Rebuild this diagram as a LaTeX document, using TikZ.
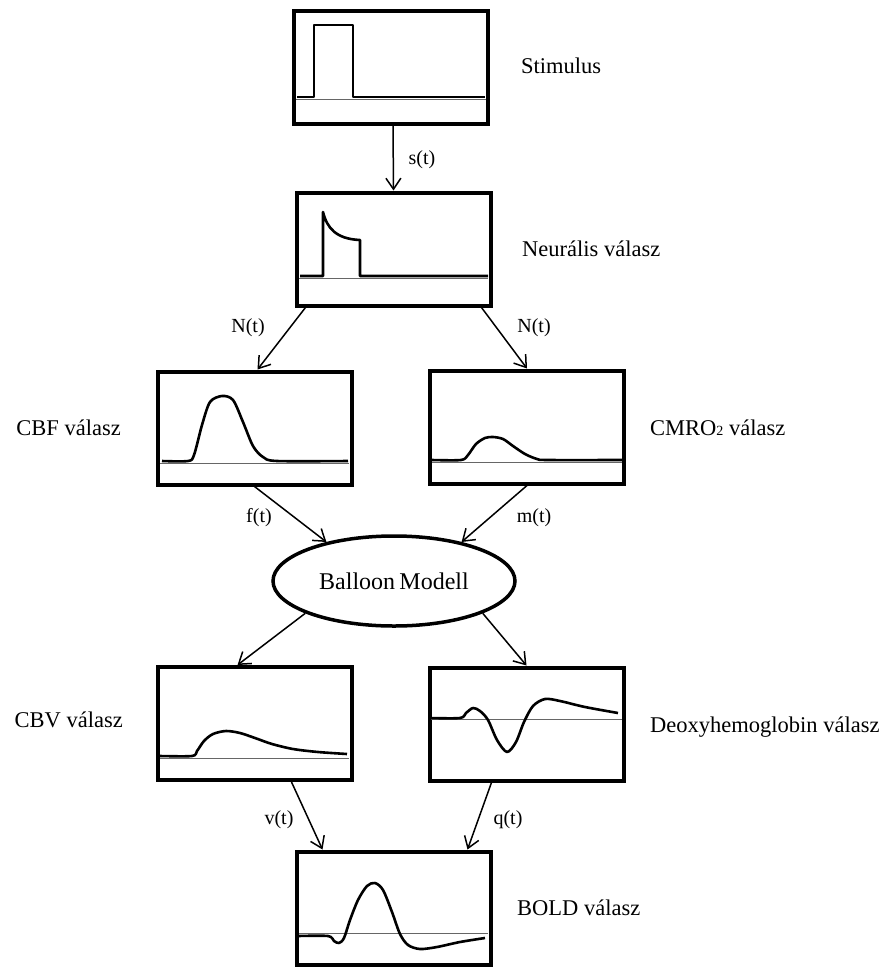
\documentclass[tikz,border=0pt]{standalone}
\usepackage{fontspec}
\setmainfont{Liberation Serif}
\usetikzlibrary{arrows.meta,shapes.geometric}
\begin{document}
\begin{tikzpicture}[x=1pt,y=-1pt,
  panel/.style={draw, line width=4pt, minimum width=194pt, minimum height=113pt, inner sep=0pt},
  model/.style={draw, ellipse, line width=3.5pt, minimum width=242pt, minimum height=90pt, inner sep=0pt, font=\fontsize{24}{28}\selectfont},
  caption/.style={font=\fontsize{22.5}{27}\selectfont, inner sep=0pt},
  sig/.style={font=\fontsize{20}{24}\selectfont, inner sep=0pt},
  flow/.style={line width=1.5pt, -{Straight Barb[length=11pt,width=15pt,line width=1.5pt]}},
  trace/.style={line width=2.6pt, line join=round},
  zero/.style={line width=1pt, draw=black!60}
]
\useasboundingbox (0,0) rectangle (895,967);

% panels
\node[panel] (stim)   at (391,67.5)  {};
\node[panel] (neural) at (393.5,249) {};
\node[panel] (cbf)    at (254.5,428) {};
\node[panel] (cmro)   at (527,427)   {};
\node[model] (balloon) at (394,581)  {Balloon\hspace{0.18em}Modell};
\node[panel] (cbv)    at (254.5,723.5) {};
\node[panel] (deoxy)  at (526.5,724) {};
\node[panel] (bold)   at (393.5,908) {};

% captions
\node[caption, anchor=base west] (tstim)   at (521,73)  {Stimulus};
\node[caption, anchor=base west] (tneural) at (522,256) {Neurális válasz};
\node[caption, anchor=base east] (tcbf)    at (121,435) {CBF válasz};
\node[caption, anchor=base west] (tcmro)   at (650,435) {CMRO{\fontsize{14}{14}\selectfont 2} válasz};
\node[caption, anchor=base east] (tcbv)    at (123,727) {CBV válasz};
\node[caption, anchor=base west] (tdeoxy)  at (650,732) {Deoxyhemoglobin válasz};
\node[caption, anchor=base west] (tbold)   at (517,915) {BOLD válasz};

% stimulus
\draw[zero] (296,99) -- (486,99);
\draw[trace] (297,97) -- (314,97) -- (314,25) -- (353,25) -- (353,97) -- (485,97);

% neural response
\draw[zero] (299,278) -- (488,278);
\draw[trace] (300,276) -- (323,276) -- (323,212)
  .. controls (327,228) and (336,239) .. (360,240) -- (360,276) -- (488,276);

% CBF
\draw[zero] (160,463) -- (349,463);
\draw[trace] plot[smooth, tension=0.5] coordinates {(162,461) (188,461) (194,455) (202,425) (210,402) (222,396) (233,400) (243,422) (253,446) (263,457) (277,461) (348,461)};

% CMRO2
\draw[zero] (432,462) -- (622,462);
\draw[trace] plot[smooth, tension=0.5] coordinates {(432,460) (461,460) (468,455) (476,444) (485,438) (493,437) (503,439) (513,446) (525,454) (537,459) (548,460) (622,460)};

% CBV
\draw[zero] (160,758) -- (349,758);
\draw[trace] plot[smooth, tension=0.5] coordinates {(160,756) (192,756) (197,751) (204,741) (213,734) (226,731) (240,733) (255,738) (272,744) (293,749) (318,752) (347,754)};

% deoxyhemoglobin
\draw[zero] (431,719) -- (622,719);
\draw[trace] plot[smooth, tension=0.5] coordinates {(430,718) (460,718) (466,713) (473,708) (480,711) (488,720) (497,740) (507,752) (516,742) (524,722) (533,706) (545,699) (560,701) (585,707) (618,713)};

% BOLD
\draw[zero] (299,933) -- (488,933);
\draw[trace] plot[smooth, tension=0.5] coordinates {(298,936) (328,936) (334,941) (339,943) (344,938) (350,920) (358,900) (367,886) (375,883) (383,890) (392,912) (400,934) (408,945) (420,949) (437,947) (460,942) (485,938)};

% connectors
\draw[flow] ([xshift=2pt]stim.south) -- (neural.north);
\draw[flow] ([xshift=-88pt]neural.south) -- ([xshift=3pt]cbf.north);
\draw[flow] ([xshift=88pt]neural.south) -- (cmro.north);
\draw[flow] (cbf.south) -- (balloon.150);
\draw[flow] (cmro.south) -- (balloon.30);
\draw[flow] (balloon.200) -- ([xshift=-17pt]cbv.north);
\draw[flow] (balloon.-20) -- (deoxy.north);
\draw[flow] ([xshift=37pt]cbv.south) -- ([xshift=-71pt]bold.north);
\draw[flow] ([xshift=-35pt]deoxy.south) -- ([xshift=74pt]bold.north);

% signal labels
\node[sig] (ls)  at (422,160) {s(t)};
\node[sig] (lnl) at (248,328) {N(t)};
\node[sig] (lnr) at (534,328) {N(t)};
\node[sig] (lf)  at (259,518) {f(t)};
\node[sig] (lm)  at (534,518) {m(t)};
\node[sig] (lv)  at (279,820) {v(t)};
\node[sig] (lq)  at (508,820) {q(t)};
\end{tikzpicture}
\end{document}
